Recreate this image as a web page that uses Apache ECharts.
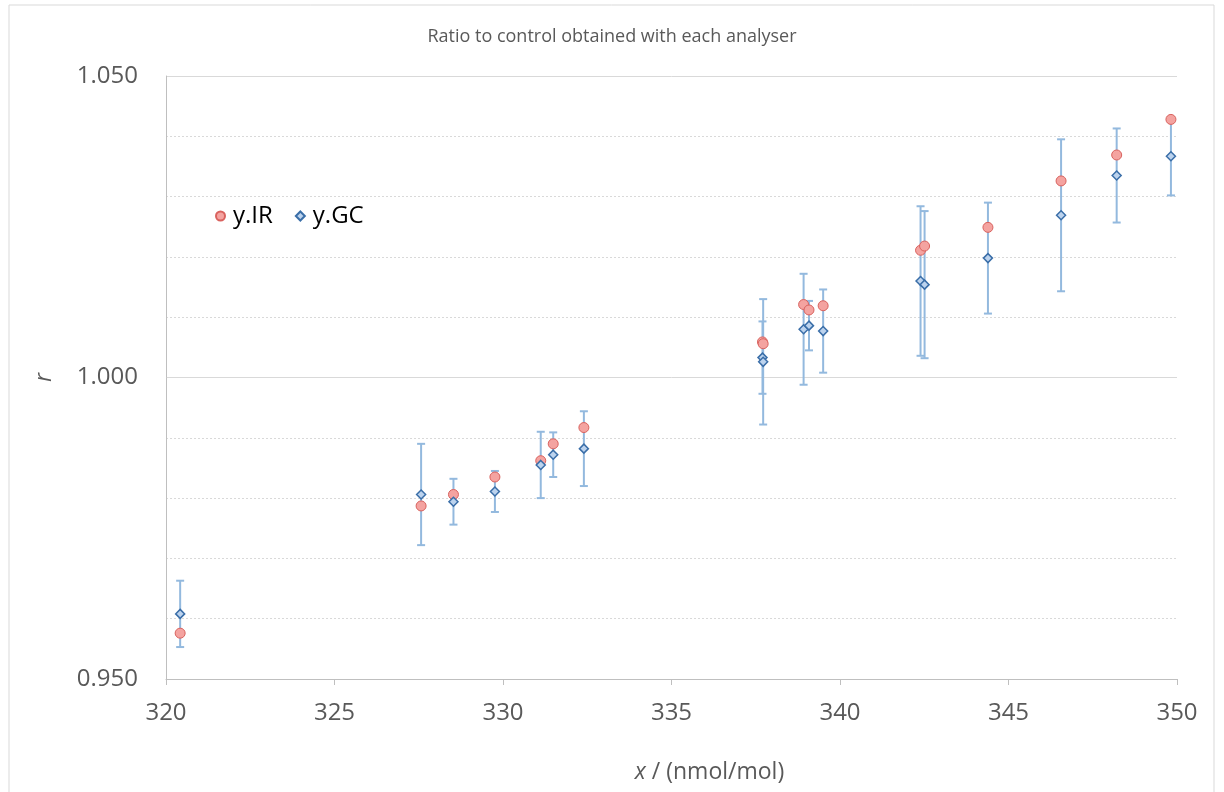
<!DOCTYPE html>
<html>
<head>
<meta charset="utf-8">
<script src="https://cdn.jsdelivr.net/npm/echarts@6/dist/echarts.min.js"></script>
<style>
html,body{margin:0;padding:0;background:#fff;}
#chart{width:1224px;height:792px;}
</style>
</head>
<body>
<div id="chart"></div>
<script>
// Data
const xVals  = [320.42, 327.57, 328.53, 329.76, 331.12, 331.49, 332.40, 337.70, 337.72, 338.92, 339.08, 339.50, 342.39, 342.51, 344.39, 346.56, 348.21, 349.82];
const irVals = [0.9576, 0.9787, 0.9806, 0.9835, 0.9862, 0.9890, 0.9917, 1.0059, 1.0056, 1.0121, 1.0112, 1.0119, 1.0211, 1.0218, 1.0249, 1.0326, 1.0369, 1.0428];
const gcVals = [0.9608, 0.9806, 0.9794, 0.9811, 0.9855, 0.9872, 0.9882, 1.0033, 1.0026, 1.0080, 1.0086, 1.0077, 1.0160, 1.0154, 1.0198, 1.0269, 1.0335, 1.0367];
const gcErr  = [0.0055, 0.0084, 0.0038, 0.0034, 0.0055, 0.0037, 0.0062, 0.0060, 0.0104, 0.0092, 0.0041, 0.0069, 0.0124, 0.0122, 0.0092, 0.0126, 0.0078, 0.0065];
const seriesNames = ['y.IR', 'y.GC'];
const titleText = 'Ratio to control obtained with each analyser';

const FONT = '"Open Sans", Lato, sans-serif';
const irData = xVals.map((x, i) => [x, irVals[i]]);
const gcData = xVals.map((x, i) => [x, gcVals[i]]);
const errData = xVals.map((x, i) => [x, gcVals[i] - gcErr[i], gcVals[i] + gcErr[i]]);

const chart = echarts.init(document.getElementById('chart'), null, {renderer: 'canvas'});
chart.setOption({
  animation: false,
  backgroundColor: '#ffffff',
  title: {
    text: titleText, left: 'center', top: 23,
    textStyle: {fontFamily: FONT, fontSize: 18, fontWeight: 'normal', color: '#595959'}
  },
  legend: {
    left: 210, top: 199, itemGap: 22, itemWidth: 9, itemHeight: 9,
    textStyle: {fontFamily: FONT, fontSize: 24, color: '#000', padding: [0, 0, 0, 3]},
    data: [
      {name: seriesNames[0], icon: 'circle'},
      {name: seriesNames[1], icon: 'diamond'}
    ]
  },
  graphic: [{
    type: 'rect', shape: {x: 9, y: 5, width: 1205, height: 800},
    style: {fill: 'none', stroke: '#d9d9d9', lineWidth: 1}, silent: true, z: -1
  }],
  grid: {left: 166, right: 47, top: 76, bottom: 113, containLabel: false},
  xAxis: {
    type: 'value', min: 320, max: 350, interval: 5,
    name: '{i|x} / (nmol/mol)', nameLocation: 'middle', nameGap: 82,
    nameTextStyle: {
      fontFamily: FONT, fontSize: 23, color: '#595959', padding: [0, 0, 0, 76],
      rich: {i: {fontStyle: 'italic', fontFamily: FONT, fontSize: 23, color: '#595959'}}
    },
    axisLine: {show: true, onZero: false, lineStyle: {color: '#bfbfbf', width: 1}},
    axisTick: {show: true, length: 6, lineStyle: {color: '#bfbfbf'}},
    axisLabel: {fontFamily: FONT, fontSize: 24, color: '#595959', margin: 22},
    splitLine: {show: false}
  },
  yAxis: {
    type: 'value', min: 0.95, max: 1.05, interval: 0.05,
    name: 'r', nameLocation: 'middle', nameGap: 110, nameRotate: 90,
    nameTextStyle: {fontFamily: FONT, fontSize: 23, color: '#595959', fontStyle: 'italic'},
    axisLine: {show: true, lineStyle: {color: '#bfbfbf', width: 1}},
    axisTick: {show: false},
    axisLabel: {fontFamily: FONT, fontSize: 24, color: '#595959', margin: 28,
      formatter: v => v.toFixed(3)},
    splitLine: {show: true, lineStyle: {color: '#d9d9d9', width: 1}},
    minorTick: {show: false, splitNumber: 5},
    minorSplitLine: {show: true, lineStyle: {color: '#d9d9d9', width: 1, type: [2, 2]}}
  },
  series: [
    {
      name: 'gcErr', type: 'custom', z: 1,
      data: errData,
      encode: {x: 0, y: [1, 2]},
      renderItem: function (params, api) {
        const x = api.value(0);
        const lo = api.coord([x, api.value(1)]);
        const hi = api.coord([x, api.value(2)]);
        const hw = 4;
        const st = {stroke: '#93b9de', lineWidth: 2};
        return {
          type: 'group',
          children: [
            {type: 'line', shape: {x1: lo[0], y1: lo[1], x2: hi[0], y2: hi[1]}, style: st},
            {type: 'line', shape: {x1: lo[0]-hw, y1: lo[1], x2: lo[0]+hw, y2: lo[1]}, style: st},
            {type: 'line', shape: {x1: hi[0]-hw, y1: hi[1], x2: hi[0]+hw, y2: hi[1]}, style: st}
          ]
        };
      }
    },
    {
      name: seriesNames[0], type: 'scatter', z: 3,
      symbol: 'circle', symbolSize: 10,
      itemStyle: {color: '#f4a3a0', borderColor: '#d9625e', borderWidth: 1, opacity: 1},
      data: irData
    },
    {
      name: seriesNames[1], type: 'scatter', z: 4,
      symbol: 'diamond', symbolSize: 9,
      itemStyle: {color: '#bcd3ee', borderColor: '#3a6ea8', borderWidth: 1.5, opacity: 1},
      data: gcData
    }
  ]
});
</script>
</body>
</html>
